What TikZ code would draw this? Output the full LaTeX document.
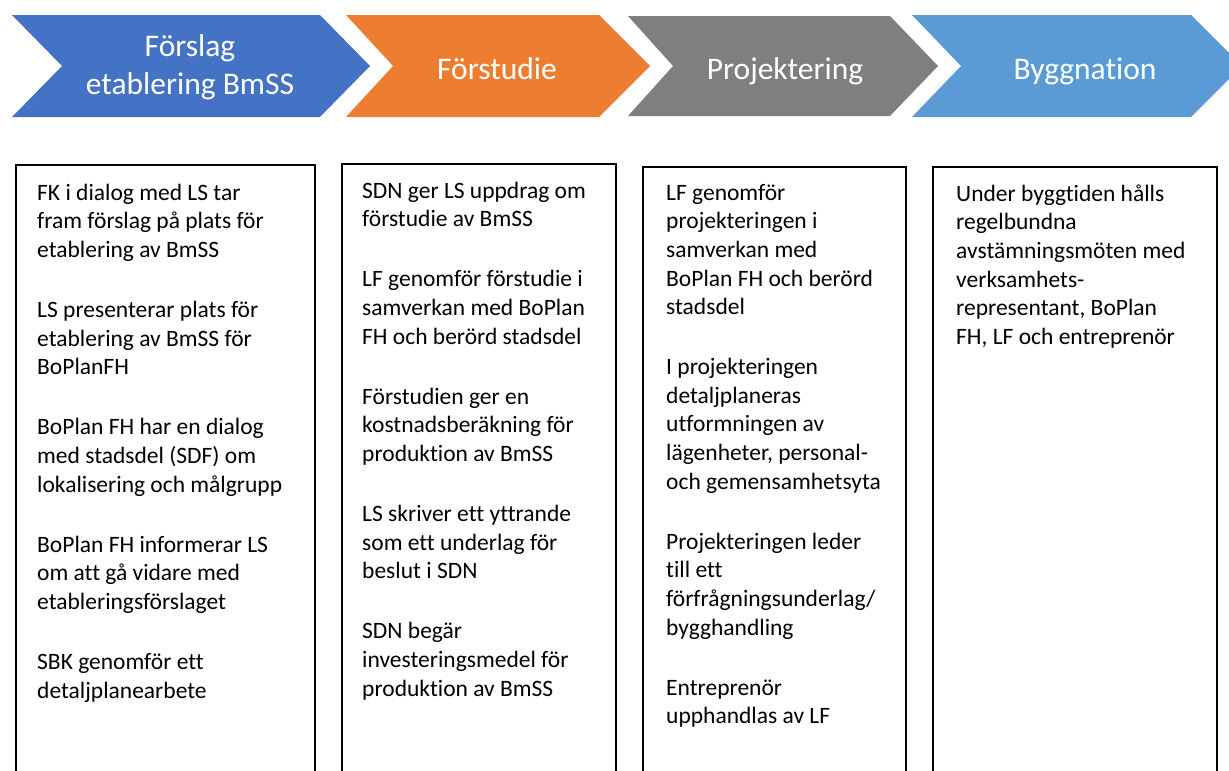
\documentclass[tikz,border=0pt]{standalone}
\usepackage{fontspec}
\setmainfont{Carlito}[Ligatures=NoCommon]
\definecolor{cblue}{HTML}{4472C4}
\definecolor{corange}{HTML}{ED7D31}
\definecolor{cgray}{HTML}{7F7F7F}
\definecolor{clblue}{HTML}{5B9BD5}
\newcommand\pgap{\\[31.5pt]}
\begin{document}
\begin{tikzpicture}[x=1pt,y=-1pt,
  chev/.style={fill=#1, draw=none},
  phase/.style={text=white, font=\fontsize{31.5}{38.4}\selectfont, align=center, inner sep=0pt, anchor=base},
  box/.style={draw=black, line width=1.8pt},
  boxtext/.style={font=\fontsize{23.5}{28.6}\selectfont, align=left, anchor=north west, inner sep=0pt, text=black}]
\useasboundingbox (0,0) rectangle (1229,771);
\fill[white] (0,0) rectangle (1229,771);
\clip (0,0) rectangle (1229,771);

% chevrons
\fill[chev=cblue]   (12,15) -- (320,15) -- (370,66) -- (320,117) -- (12,117) -- (62,66) -- cycle;
\fill[chev=corange] (346,15) -- (599,15) -- (650,66) -- (599,117) -- (346,117) -- (393,66) -- cycle;
\fill[chev=cgray]   (628,16) -- (890,16) -- (938,66) -- (890,116) -- (628,116) -- (673,66) -- cycle;
\fill[chev=clblue]  (912,15) -- (1191,15) -- (1242,66) -- (1191,117) -- (912,117) -- (961,66) -- cycle;

\node[phase] (p1a) at (190,56) {Förslag};
\node[phase] (p1b) at (190,94) {etablering BmSS};
\node[phase] (p2) at (497,79) {Förstudie};
\node[phase] (p3) at (785,79) {Projektering};
\node[phase] (p4) at (1085,79) {Byggnation};

% boxes
\draw[box] (16,165) rectangle (315,800);
\draw[box] (342,164) rectangle (616,800);
\draw[box] (643,167) rectangle (906,800);
\draw[box] (933,167) rectangle (1217,800);

\node[boxtext] (t1) at (37,180) {\strut FK i dialog med LS tar\\fram förslag på plats för\\etablering av BmSS\pgap
LS presenterar plats för\\etablering av BmSS för\\BoPlanFH\pgap
BoPlan FH har en dialog\\med stadsdel (SDF) om\\lokalisering och målgrupp\pgap
BoPlan FH informerar LS\\om att gå vidare med\\etableringsförslaget\pgap
SBK genomför ett\\detaljplanearbete};

\node[boxtext] (t2) at (362,178) {\strut SDN ger LS uppdrag om\\förstudie av BmSS\pgap
LF genomför förstudie i\\samverkan med BoPlan\\FH och berörd stadsdel\pgap
Förstudien ger en\\kostnadsberäkning för\\produktion av BmSS\pgap
LS skriver ett yttrande\\som ett underlag för\\beslut i SDN\pgap
SDN begär\\investeringsmedel för\\produktion av BmSS};

\node[boxtext] (t3) at (666,180) {\strut LF genomför\\projekteringen i\\samverkan med\\BoPlan FH och berörd\\stadsdel\pgap
I projekteringen\\detaljplaneras\\utformningen av\\lägenheter, personal-\\och gemensamhetsyta\pgap
Projekteringen leder\\till ett\\förfrågningsunderlag/\\bygghandling\pgap
Entreprenör\\upphandlas av LF};

\node[boxtext] (t4) at (956,181) {\strut Under byggtiden hålls\\regelbundna\\avstämningsmöten med\\verksamhets-\\representant, BoPlan\\FH, LF och entreprenör};
\end{tikzpicture}
\end{document}
